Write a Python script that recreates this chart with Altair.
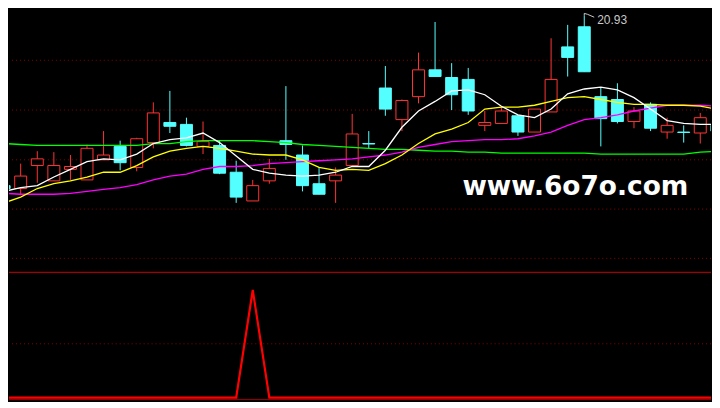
import altair as alt
import pandas as pd

# ---- data (index -1 and 42 are the half-visible edge candles)
idx = list(range(-1, 43))
open_ = [17.37, 17.31, 17.79, 17.47, 17.71, 17.49, 17.91, 18.19, 17.75, 18.27,
         18.69, 18.65, 18.19, 18.21, 17.65, 17.05, 17.47, 18.31, 18.01, 17.41,
         17.47, 17.79, 18.25, 19.41, 18.75, 19.23, 19.79, 19.63, 19.59, 18.63,
         18.67, 18.83, 18.49, 18.91, 20.27, 20.69, 19.23, 19.17, 18.71, 19.07,
         18.49, 18.49, 18.47, 18.63]
high = [17.45, 17.83, 18.09, 18.07, 18.01, 18.23, 18.51, 18.31, 18.37, 19.11,
        19.35, 18.79, 18.71, 18.31, 17.89, 17.49, 17.93, 19.45, 18.21, 17.75,
        17.75, 18.87, 18.51, 19.87, 19.17, 20.15, 20.79, 19.93, 19.83, 18.93,
        19.01, 18.85, 18.97, 20.45, 20.73, 20.93, 19.43, 19.51, 19.01, 19.11,
        18.79, 18.63, 18.89, 18.69]
low = [17.25, 17.17, 17.43, 17.47, 17.49, 17.49, 17.91, 17.69, 17.67, 18.15,
       18.47, 18.19, 18.03, 17.61, 17.01, 17.05, 17.41, 17.91, 17.25, 17.19,
       17.01, 17.79, 18.15, 18.83, 18.51, 19.09, 19.65, 18.95, 18.85, 18.51,
       18.67, 18.41, 18.49, 18.91, 19.65, 19.75, 18.19, 18.67, 18.57, 18.51,
       18.35, 18.27, 18.25, 18.45]
close = [17.31, 17.57, 17.93, 17.79, 17.77, 18.15, 18.01, 17.85, 18.35, 18.89,
         18.61, 18.21, 18.29, 17.63, 17.13, 17.37, 17.73, 18.23, 17.37, 17.19,
         17.59, 18.45, 18.24, 18.97, 19.15, 19.79, 19.65, 19.27, 18.93, 18.69,
         18.93, 18.49, 18.97, 19.59, 20.05, 19.75, 18.77, 18.71, 18.93, 18.57,
         18.63, 18.48, 18.79, 18.51]
ma5 = [17.25, 17.33, 17.37, 17.55, 17.71, 17.87, 17.93, 17.91, 18.03, 18.25,
       18.33, 18.37, 18.47, 18.27, 17.99, 17.71, 17.63, 17.59, 17.57, 17.59,
       17.65, 17.77, 17.77, 18.11, 18.59, 18.93, 19.13, 19.35, 19.37, 19.27,
       19.03, 18.85, 18.79, 18.97, 19.29, 19.39, 19.43, 19.37, 19.21, 18.97,
       18.73, 18.67, 18.65, 18.65]
ma10 = [17.01, 17.13, 17.31, 17.41, 17.47, 17.55, 17.65, 17.65, 17.79, 17.97,
        18.09, 18.15, 18.19, 18.15, 18.09, 18.03, 18.01, 18.01, 17.91, 17.75,
        17.69, 17.71, 17.69, 17.83, 18.01, 18.25, 18.45, 18.55, 18.69, 18.97,
        19.01, 19.01, 19.05, 19.13, 19.21, 19.23, 19.17, 19.11, 19.07, 19.07,
        19.05, 19.05, 19.03, 18.97]
ma20 = [17.21, 17.19, 17.19, 17.19, 17.21, 17.25, 17.29, 17.33, 17.39, 17.49,
        17.57, 17.61, 17.71, 17.77, 17.77, 17.79, 17.83, 17.85, 17.87, 17.89,
        17.91, 17.93, 17.97, 18.01, 18.07, 18.17, 18.23, 18.29, 18.31, 18.33,
        18.33, 18.35, 18.41, 18.49, 18.63, 18.75, 18.79, 18.85, 18.93, 18.99,
        19.05, 19.05, 19.05, 19.03]
ma60 = [18.25, 18.23, 18.21, 18.21, 18.21, 18.21, 18.21, 18.21, 18.21, 18.25,
        18.25, 18.29, 18.31, 18.31, 18.31, 18.31, 18.29, 18.27, 18.23, 18.21,
        18.19, 18.17, 18.15, 18.13, 18.13, 18.11, 18.09, 18.09, 18.07, 18.07,
        18.05, 18.05, 18.05, 18.05, 18.05, 18.05, 18.03, 18.03, 18.03, 18.03,
        18.03, 18.03, 18.07, 18.09]
signal = [0] * 15 + [1] + [0] * 28

grid_prices = [19.99, 18.95, 17.91, 16.88, 15.85]
peak_label = "20.93"
peak_index = 34
watermark = "www.6o7o.com"

df = pd.DataFrame({"i": idx, "open": open_, "high": high, "low": low, "close": close,
                   "ma5": ma5, "ma10": ma10, "ma20": ma20, "ma60": ma60, "sig": signal})

RED = "#ff3434"
CYAN = "#54ffff"
GRID = "#8c0000"
W, H1, H2 = 704, 262, 130

xscale = alt.Scale(domain=[-12 / 17, 708 / 17], nice=False, zero=False, padding=0)
yscale = alt.Scale(domain=[15.59, 21.05], nice=False, zero=False, padding=0)
X = alt.X("i:Q", scale=xscale, axis=None)


def Yp(f):
    return alt.Y(f"{f}:Q", scale=yscale, axis=None)


up = "datum.close >= datum.open"
base = alt.Chart(df)

grid = alt.Chart(pd.DataFrame({"g": grid_prices})).mark_rule(
    color=GRID, strokeDash=[1, 3], strokeWidth=1, clip=True
).encode(y=Yp("g"))

wicks = base.mark_rule(strokeWidth=1, clip=True).encode(
    x=X, y=Yp("low"), y2="high:Q",
    color=alt.condition(up, alt.value(RED), alt.value(CYAN)),
)
bodies = base.mark_bar(size=12, strokeWidth=1, clip=True).encode(
    x=X, y=Yp("open"), y2="close:Q",
    fill=alt.condition(up, alt.value("#000000"), alt.value(CYAN)),
    stroke=alt.condition(up, alt.value(RED), alt.value(CYAN)),
)

line_green = base.mark_line(color="#00ff00", strokeWidth=1.3, clip=True).encode(x=X, y=Yp("ma60"))
line_mag = base.mark_line(color="#ff00ff", strokeWidth=1.3, clip=True).encode(x=X, y=Yp("ma20"))
line_yel = base.mark_line(color="#ffff00", strokeWidth=1.3, clip=True).encode(x=X, y=Yp("ma10"))
line_wht = base.mark_line(color="#ffffff", strokeWidth=1.3, clip=True).encode(x=X, y=Yp("ma5"))

flag_df = pd.DataFrame({"i": [peak_index, peak_index, peak_index + 0.2, peak_index + 0.6],
                        "p": [20.93, 20.97, 20.95, 20.89], "o": [0, 1, 2, 3]})
flag = alt.Chart(flag_df).mark_line(color="#c8c8c8", strokeWidth=1, clip=True).encode(
    x=X, y=Yp("p"), order="o:O")

label = alt.Chart(pd.DataFrame({"i": [peak_index], "p": [20.93], "t": [peak_label]})).mark_text(
    align="left", baseline="middle", dx=13, dy=5, fontSize=12,
    font="Liberation Sans", color="#c8c8c8"
).encode(x=X, y=Yp("p"), text="t:N")

wm = alt.Chart(pd.DataFrame({"i": [26.65], "p": [17.17], "t": [watermark]})).mark_text(
    align="left", baseline="alphabetic", fontSize=26.5, fontWeight="bold",
    font="DejaVu Sans", color="#ffffff"
).encode(x=X, y=Yp("p"), text="t:N")

top = alt.layer(grid, wicks, bodies, line_green, line_mag, line_yel, line_wht,
                flag, label, wm).properties(width=W, height=H1)

# ---- lower indicator panel
lscale = alt.Scale(domain=[-0.0268, 1.1786], nice=False, zero=False, padding=0)


def LY(f):
    return alt.Y(f"{f}:Q", scale=lscale, axis=None)


sep = alt.Chart(pd.DataFrame({"v": [1.1647]})).mark_rule(
    color="#d00000", strokeWidth=1, clip=True).encode(y=LY("v"))
lgrid = alt.Chart(pd.DataFrame({"v": [0.5]})).mark_rule(
    color=GRID, strokeDash=[1, 3], strokeWidth=1, clip=True).encode(y=LY("v"))
border = alt.Chart(pd.DataFrame({"v": [-0.0196]})).mark_rule(
    color="#b00000", strokeWidth=1, clip=True).encode(y=LY("v"))
sig_line = base.mark_line(color="#ff0000", strokeWidth=2.2, clip=True).encode(x=X, y=LY("sig"))

bottom = alt.layer(sep, lgrid, border, sig_line).properties(width=W, height=H2)

chart = alt.vconcat(top, bottom, spacing=0, bounds="flush").properties(
    padding=0, background="#000000"
).configure_view(stroke="transparent")

chart.save("out.html", embed_options={"renderer": "svg", "actions": False})
